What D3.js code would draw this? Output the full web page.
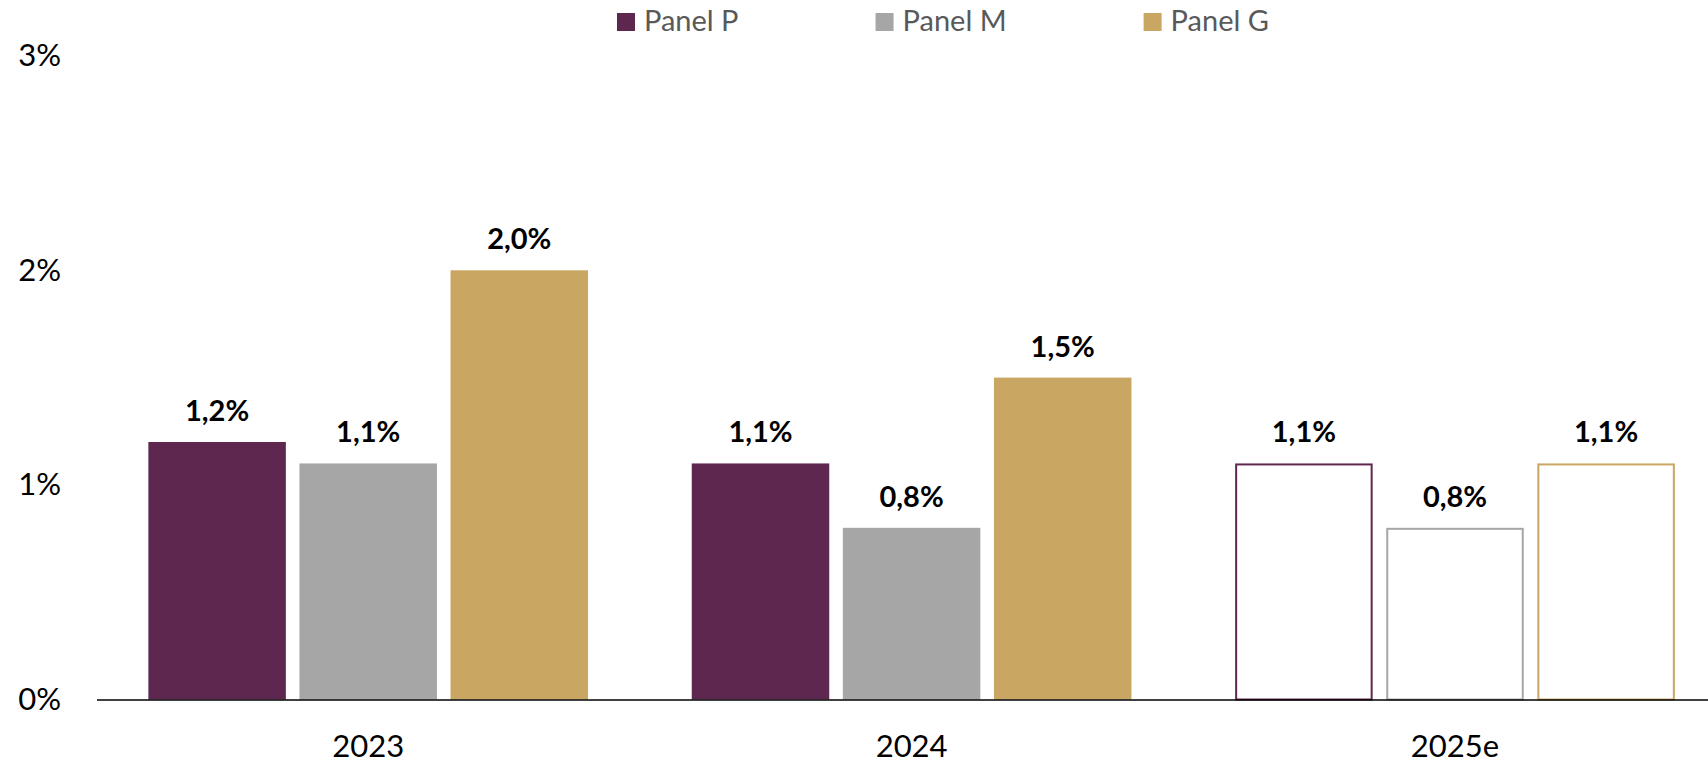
<!DOCTYPE html>
<html>
<head>
<meta charset="utf-8">
<script src="https://cdn.jsdelivr.net/npm/d3@7"></script>
<style>
  body { margin: 0; background: #fff; }
  svg { display: block; font-family: Lato, "Open Sans", sans-serif; }
</style>
</head>
<body>
<div id="chart"></div>
<script>
// chart data
var years = ['2023', '2024', '2025e'];
var seriesNames = ['Panel P', 'Panel M', 'Panel G'];
var panelP = [1.2, 1.1, 1.1];
var panelM = [1.1, 0.8, 0.8];
var panelG = [2.0, 1.5, 1.1];
var estimateYears = ['2025e']; // drawn as outlines only
var yTicks = [0, 1, 2, 3];

var colors = ['#5e2750', '#a6a6a6', '#c9a661'];
var values = [panelP, panelM, panelG];

var width = 1708,
    height = 764;

var svg = d3.select('#chart').append('svg')
  .attr('width', width)
  .attr('height', height);

var xScale = d3.scaleBand()
  .domain(years)
  .range([96.5, 1726.7]);

// bars inside one year group
var xInner = d3.scaleBand()
  .domain(seriesNames)
  .range([51.85, xScale.bandwidth() - 51.85])
  .paddingInner(0.09);

var yScale = d3.scaleLinear()
  .domain([0, 3])
  .range([699.5, 55.7]);

// y axis: labels only
var yAxisGroup = svg.append('g')
  .attr('transform', 'translate(61, 0)')
  .call(d3.axisLeft(yScale).tickValues(yTicks).tickSize(0).tickPadding(0)
    .tickFormat(function(d) { return d + '%'; }));
yAxisGroup.select('.domain').remove();
yAxisGroup.selectAll('text')
  .attr('font-family', 'Lato, sans-serif')
  .attr('font-size', 31)
  .attr('fill', '#000');

// bars
years.forEach(function(year, i) {
  var isEstimate = estimateYears.indexOf(year) >= 0;
  var g = svg.append('g')
    .attr('transform', 'translate(' + xScale(year) + ',0)');

  g.selectAll('rect')
    .data(seriesNames)
    .enter()
    .append('rect')
    .attr('x', function(s, j) { return xInner(s) + (isEstimate ? 1 : 0); })
    .attr('y', function(s, j) { return yScale(values[j][i]) + (isEstimate ? 1 : 0); })
    .attr('width', xInner.bandwidth() - (isEstimate ? 2 : 0))
    .attr('height', function(s, j) { return yScale(0) - yScale(values[j][i]) - (isEstimate ? 1 : 0); })
    .attr('fill', function(s, j) { return isEstimate ? '#fff' : colors[j]; })
    .attr('stroke', function(s, j) { return isEstimate ? colors[j] : 'none'; })
    .attr('stroke-width', 2);

  g.selectAll('text')
    .data(seriesNames)
    .enter()
    .append('text')
    .attr('x', function(s) { return xInner(s) + xInner.bandwidth() / 2; })
    .attr('y', function(s, j) { return yScale(values[j][i]) - 21; })
    .attr('text-anchor', 'middle')
    .attr('font-size', 29)
    .attr('font-weight', 'bold')
    .attr('fill', '#000')
    .text(function(s, j) { return values[j][i].toFixed(1).replace('.', ',') + '%'; });
});

// x axis
var xAxisGroup = svg.append('g')
  .attr('transform', 'translate(0,' + yScale(0) + ')')
  .call(d3.axisBottom(xScale).tickSize(0).tickPadding(0));
xAxisGroup.select('.domain')
  .attr('stroke', '#000')
  .attr('stroke-width', 1.5);
xAxisGroup.selectAll('text')
  .attr('dy', null)
  .attr('y', 57)
  .attr('font-family', 'Lato, sans-serif')
  .attr('font-size', 31)
  .attr('fill', '#000');

// legend
var legend = svg.append('g').attr('class', 'legend');
var lx = 617;
seriesNames.forEach(function(name, j) {
  legend.append('rect')
    .attr('x', lx)
    .attr('y', 13)
    .attr('width', 18)
    .attr('height', 18)
    .attr('fill', colors[j]);
  var t = legend.append('text')
    .attr('x', lx + 27)
    .attr('y', 31)
    .attr('font-size', 29)
    .attr('fill', '#595959')
    .text(name);
  lx = lx + 27 + t.node().getComputedTextLength() + 137;
});
</script>
</body>
</html>
